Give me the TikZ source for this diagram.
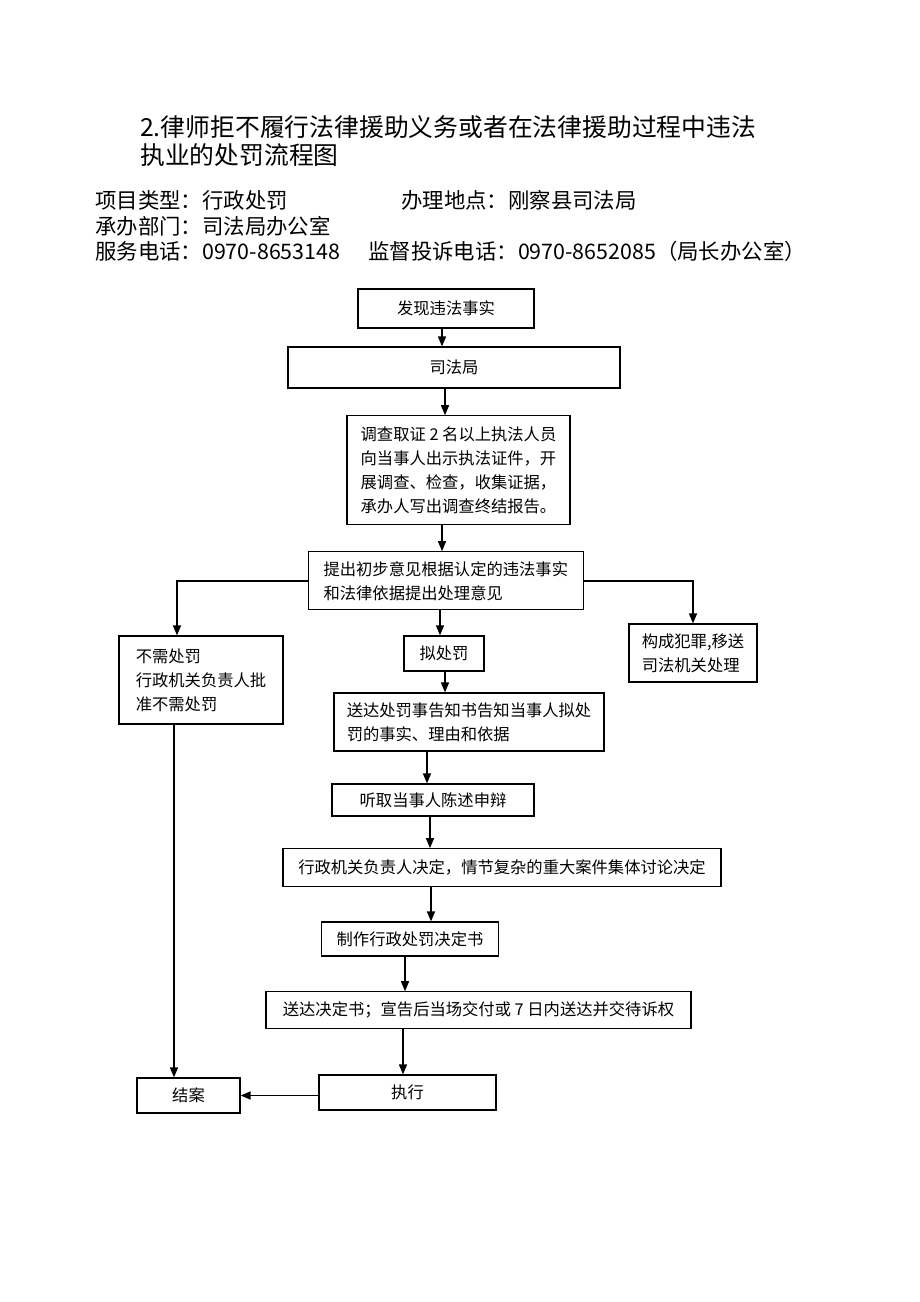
\documentclass[tikz,border=0pt]{standalone}
\usepackage{fontspec}
\usepackage{tikz}
\usetikzlibrary{arrows.meta}
\newfontfamily\cjk{Noto Sans CJK SC}

\begin{document}
\begin{tikzpicture}[x=1pt, y=-1pt,
        box/.style={draw, line width=1.2pt, inner sep=0pt, align=left, font=\cjk\fontsize{16.3}{24}\selectfont},
        info/.style={anchor=west, inner sep=0pt, font=\cjk\fontsize{21.4}{25}\selectfont},
        >={Triangle[length=10pt, width=8pt]}]
        % 画布
        \useasboundingbox (0,0) rectangle (920,1302);
        % 标题
        \node[anchor=west, align=left, inner sep=0pt, font=\cjk\fontsize{24.8}{28}\selectfont] (title) at (140,141)
            {2.律师拒不履行法律援助义务或者在法律援助过程中违法\\执业的处罚流程图};
        % 基本信息
        \node[info] (lx) at (95,200) {项目类型：行政处罚};
        \node[info] (dd) at (401,200) {办理地点：刚察县司法局};
        \node[info] (bm) at (95,226) {承办部门：司法局办公室};
        \node[info] (dh) at (95,251) {服务电话：0970-8653148};
        \node[info] (ts) at (368,251) {监督投诉电话：0970-8652085（局长办公室）};
        % 流程框
        \node[box, minimum width=176pt, minimum height=39pt] (fx) at (446,308.5) {发现违法事实};
        \node[box, minimum width=332pt, minimum height=41pt] (sfj) at (454,367.5) {司法局};
        \node[box, minimum width=223pt, minimum height=109pt] (dc) at (458.5,470.3)
            {调查取证 2 名以上执法人员\\向当事人出示执法证件，开\\展调查、检查，收集证据，\\承办人写出调查终结报告。};
        \node[box, minimum width=275pt, minimum height=58pt] (tc) at (445.8,580.8)
            {提出初步意见根据认定的违法事实\\和法律依据提出处理意见};
        \node[box, minimum width=164pt, minimum height=88pt] (bx) at (201,680)
            {不需处罚\\行政机关负责人批\\准不需处罚};
        \node[box, minimum width=80pt, minimum height=35pt] (nc) at (444,653.5) {拟处罚};
        \node[box, minimum width=128pt, minimum height=58pt] (fz) at (693,653)
            {构成犯罪,移送\\司法机关处理};
        \node[box, minimum width=270pt, minimum height=58pt] (sd) at (469,722)
            {送达处罚事告知书告知当事人拟处\\罚的事实、理由和依据};
        \node[box, minimum width=202pt, minimum height=32pt] (tq) at (433,800) {听取当事人陈述申辩};
        \node[box, minimum width=438pt, minimum height=38pt] (xz) at (502,867.7)
            {行政机关负责人决定，情节复杂的重大案件集体讨论决定};
        \node[box, minimum width=177pt, minimum height=34pt] (zz) at (410,939) {制作行政处罚决定书};
        \node[box, minimum width=425pt, minimum height=37pt] (sj) at (478.5,1010.3)
            {送达决定书；宣告后当场交付或 7 日内送达并交待诉权};
        \node[box, minimum width=177pt, minimum height=35pt] (zx) at (407.5,1092.5) {执行};
        \node[box, minimum width=103pt, minimum height=35pt] (ja) at (188.5,1095.5) {结案};
        % 箭头
        \begin{scope}[line width=1.5pt]
        \draw[->] (fx.south -| 442,0) -- (sfj.north -| 442,0);
        \draw[->] (sfj.south -| 445,0) -- (dc.north -| 445,0);
        \draw[->] (dc.south -| 442,0) -- (tc.north -| 442,0);
        \draw[->] (tc.south -| 440,0) -- (nc.north -| 440,0);
        \draw[->] (tc.west) -| (bx.north -| 177,0);
        \draw[->] (tc.east) -| (fz.north);
        \draw[->] (nc.south -| 445,0) -- (sd.north -| 445,0);
        \draw[->] (sd.south -| 427,0) -- (tq.north -| 427,0);
        \draw[->] (tq.south -| 430,0) -- (xz.north -| 430,0);
        \draw[->] (xz.south -| 431,0) -- (zz.north -| 431,0);
        \draw[->] (zz.south -| 405,0) -- (sj.north -| 405,0);
        \draw[->] (sj.south -| 403,0) -- (zx.north -| 403,0);
        \draw[->] (bx.south -| 174,0) -- (ja.north -| 174,0);
        \draw[->] (zx.west |- ja.east) -- (ja.east);
        \end{scope}
    \end{tikzpicture}
\end{document}
